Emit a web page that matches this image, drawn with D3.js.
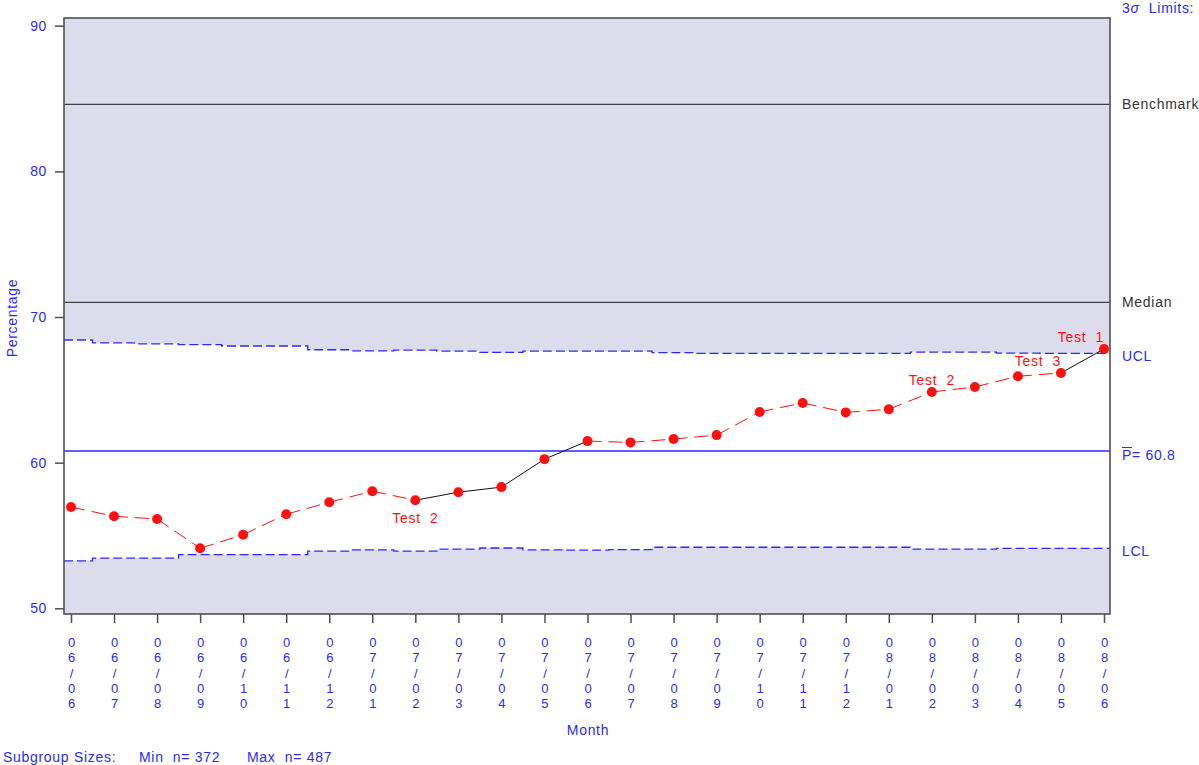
<!DOCTYPE html>
<html>
<head>
<meta charset="utf-8">
<script src="https://cdn.jsdelivr.net/npm/d3@7"></script>
<style>
  body { margin: 0; background: #fff; }
  svg { display: block; font-family: "Liberation Sans", Arial, sans-serif; }
  .lbl { letter-spacing: 0.7px; }
</style>
</head>
<body>
<svg id="chart" width="1199" height="765"></svg>
<script>
// Data
const months = ['06/06','06/07','06/08','06/09','06/10','06/11','06/12',
  '07/01','07/02','07/03','07/04','07/05','07/06','07/07','07/08','07/09','07/10','07/11','07/12',
  '08/01','08/02','08/03','08/04','08/05','08/06'];
const pct = [56.95, 56.32, 56.13, 54.12, 55.05, 56.46, 57.28, 58.04, 57.42, 57.97, 58.32, 60.24,
  61.48, 61.39, 61.62, 61.89, 63.48, 64.10, 63.45, 63.66, 64.85, 65.20, 65.93, 66.16, 67.80];
const ucl = [68.42, 68.23, 68.16, 68.10, 68.01, 68.01, 67.75, 67.68, 67.73, 67.66, 67.57, 67.66,
  67.66, 67.66, 67.56, 67.50, 67.50, 67.50, 67.50, 67.50, 67.59, 67.59, 67.52, 67.50, 67.50];
const lcl = [53.25, 53.44, 53.44, 53.69, 53.69, 53.69, 53.92, 54.01, 53.92, 54.06, 54.14, 54.01,
  53.99, 54.03, 54.19, 54.19, 54.19, 54.19, 54.19, 54.19, 54.06, 54.06, 54.12, 54.12, 54.12];
const centerLine = 60.8;
const medianLine = 71.0;
const benchmarkLine = 84.6;
const yTicks = [50, 60, 70, 80, 90];
const minN = 372, maxN = 487;
// runs of points flagged by the tests (index ranges, inclusive)
const flaggedRuns = [[0, 8], [12, 23]];
const testLabels = [
  { i: 8, text: 'Test 2', where: 'below' },
  { i: 20, text: 'Test 2', where: 'above' },
  { i: 23, text: 'Test 3', where: 'aboveLeft' },
  { i: 24, text: 'Test 1', where: 'aboveLeft' }
];

const svg = d3.select('#chart');
const blue = '#2a2aff';
const red = '#ff1010';
const frameColor = '#505050';
const shade = '#dcdcec';

const plotL = 64, plotR = 1110, plotT = 18, plotB = 614;

const x = d3.scalePoint().domain(months).range([71, 1104]);
const y = d3.scaleLinear().domain([50, 90]).range([608.3, 25.7]);

// shaded background, then white band between the limits
svg.append('rect')
  .attr('x', plotL).attr('y', plotT)
  .attr('width', plotR - plotL).attr('height', plotB - plotT)
  .attr('fill', shade);

const bandData = months.map((m, i) => ({ x: x(m), u: ucl[i], l: lcl[i] }));
bandData.unshift({ x: plotL, u: ucl[0], l: lcl[0] });
bandData.push({ x: plotR, u: ucl[ucl.length - 1], l: lcl[lcl.length - 1] });

svg.append('path')
  .datum(bandData)
  .attr('fill', '#fff')
  .attr('d', d3.area().curve(d3.curveStep).x(d => d.x).y0(d => y(d.l)).y1(d => y(d.u)));

// UCL / LCL dashed step lines
['u', 'l'].forEach(k => {
  svg.append('path')
    .datum(bandData)
    .attr('fill', 'none')
    .attr('stroke', blue)
    .attr('stroke-width', 1.3)
    .attr('stroke-dasharray', '9,4')
    .attr('d', d3.line().curve(d3.curveStep).x(d => d.x).y(d => y(d[k])));
});

// reference lines
function hline(v, color, w) {
  svg.append('line')
    .attr('x1', plotL).attr('x2', plotR)
    .attr('y1', y(v)).attr('y2', y(v))
    .attr('stroke', color).attr('stroke-width', w);
}
hline(benchmarkLine, '#404040', 1.2);
hline(medianLine, '#404040', 1.2);
hline(centerLine, blue, 1.5);

// connecting segments: red dashed inside flagged runs, black otherwise
const inRun = i => flaggedRuns.some(r => i >= r[0] && i + 1 <= r[1]);
for (let i = 0; i < pct.length - 1; i++) {
  svg.append('line')
    .attr('x1', x(months[i])).attr('y1', y(pct[i]))
    .attr('x2', x(months[i + 1])).attr('y2', y(pct[i + 1]))
    .attr('stroke', inRun(i) ? red : '#111')
    .attr('stroke-width', 1)
    .attr('stroke-dasharray', inRun(i) ? '14,7' : null);
}

// points
svg.selectAll('circle.pt')
  .data(pct)
  .join('circle')
  .attr('class', 'pt')
  .attr('cx', (d, i) => x(months[i]))
  .attr('cy', d => y(d))
  .attr('r', 5)
  .attr('fill', red);

// test labels
testLabels.forEach(t => {
  const px = x(months[t.i]), py = y(pct[t.i]);
  svg.append('text')
    .attr('class', 'lbl')
    .attr('x', px)
    .attr('y', t.where === 'below' ? py + 23 : py - 7)
    .attr('text-anchor', t.where === 'aboveLeft' ? 'end' : 'middle')
    .attr('fill', red)
    .attr('font-size', 14)
    .attr('xml:space', 'preserve')
    .text(t.text.replace(' ', '  '));
});

// frame
svg.append('rect')
  .attr('x', plotL).attr('y', plotT)
  .attr('width', plotR - plotL).attr('height', plotB - plotT)
  .attr('fill', 'none').attr('stroke', frameColor).attr('stroke-width', 1.6);

// y axis
const yAxis = svg.append('g')
  .attr('transform', `translate(${plotL},0)`)
  .call(d3.axisLeft(y).tickValues(yTicks).tickSize(9).tickPadding(8).tickFormat(d3.format('d')));
yAxis.select('.domain').remove();
yAxis.selectAll('line').attr('stroke', frameColor).attr('stroke-width', 1.5);
yAxis.selectAll('text').attr('fill', blue).attr('font-size', 14)
  .attr('font-family', '"Liberation Sans", Arial, sans-serif')
  .style('letter-spacing', '0.6px');

// x axis with stacked characters
const xAxis = svg.append('g')
  .attr('transform', `translate(0,${plotB})`)
  .call(d3.axisBottom(x).tickSize(9).tickFormat(''));
xAxis.select('.domain').remove();
xAxis.selectAll('line').attr('stroke', frameColor).attr('stroke-width', 1.5);
xAxis.selectAll('.tick').each(function(d) {
  const t = d3.select(this).append('text')
    .attr('fill', blue)
    .attr('font-size', 13)
    .attr('text-anchor', 'middle')
    .attr('font-family', '"Liberation Sans", Arial, sans-serif');
  d.split('').forEach((c, j) => {
    t.append('tspan').attr('x', 0).attr('y', 33 + j * 15.3).text(c);
  });
});

// axis titles
svg.append('text')
  .attr('class', 'lbl')
  .attr('transform', 'translate(17,318) rotate(-90)')
  .attr('text-anchor', 'middle')
  .attr('fill', blue).attr('font-size', 14)
  .text('Percentage');

svg.append('text')
  .attr('class', 'lbl')
  .attr('x', 588).attr('y', 735)
  .attr('text-anchor', 'middle')
  .attr('fill', blue).attr('font-size', 14)
  .text('Month');

// subgroup sizes footnote
[['Subgroup Sizes:', 3], ['Min  n= ' + minN, 139], ['Max  n= ' + maxN, 247]].forEach(([txt, xx]) => {
  svg.append('text')
    .attr('class', 'lbl')
    .attr('x', xx).attr('y', 762)
    .attr('fill', blue).attr('font-size', 14)
    .attr('xml:space', 'preserve')
    .text(txt);
});

// right-side limit labels
const lab = (txt, v, color) => svg.append('text')
  .attr('class', 'lbl')
  .attr('x', 1122).attr('y', y(v) + 5)
  .attr('fill', color).attr('font-size', 14)
  .text(txt);

const lim = svg.append('text')
  .attr('class', 'lbl')
  .attr('x', 1122).attr('y', 13)
  .attr('fill', blue).attr('font-size', 14)
  .attr('xml:space', 'preserve');
lim.append('tspan').text('3');
lim.append('tspan').attr('font-style', 'italic').text('σ');
lim.append('tspan').text('  Limits:');

lab('Benchmark', benchmarkLine, '#333');
lab('Median', medianLine, '#333');
svg.append('text').attr('class', 'lbl').attr('x', 1122).attr('y', y(ucl[ucl.length - 1]) + 8)
  .attr('fill', blue).attr('font-size', 14).text('UCL');
svg.append('text').attr('class', 'lbl').attr('x', 1122).attr('y', y(lcl[lcl.length - 1]) + 8)
  .attr('fill', blue).attr('font-size', 14).text('LCL');

const pbar = svg.append('text')
  .attr('class', 'lbl')
  .attr('x', 1122).attr('y', y(centerLine) + 9)
  .attr('fill', blue).attr('font-size', 14)
  .attr('xml:space', 'preserve');
pbar.append('tspan').text('P');
pbar.append('tspan').text('= ' + centerLine.toFixed(1));
// overline above the P
svg.append('line')
  .attr('x1', 1122).attr('x2', 1132)
  .attr('y1', y(centerLine) - 3.5).attr('y2', y(centerLine) - 3.5)
  .attr('stroke', blue).attr('stroke-width', 1);
</script>
</body>
</html>
